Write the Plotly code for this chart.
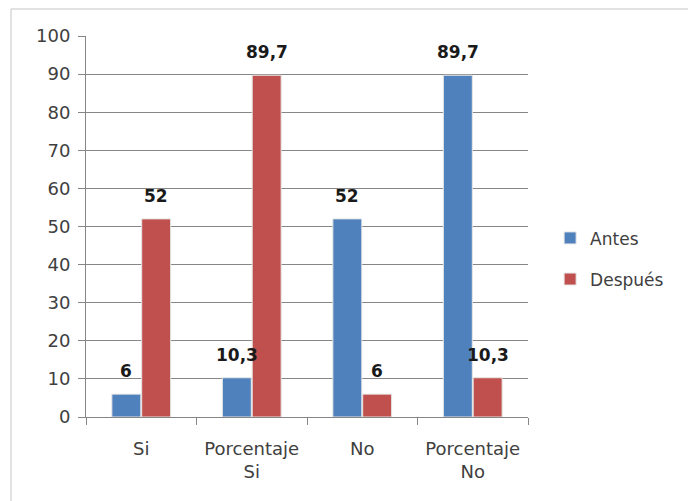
import plotly.graph_objects as go

categories = ["Si", "Porcentaje<br>Si", "No", "Porcentaje<br>No"]
antes = [6, 10.3, 52, 89.7]
despues = [52, 89.7, 6, 10.3]
series_names = ["Antes", "Después"]
colors = ["#4F81BD", "#C0504D"]
yticks = list(range(0, 101, 10))

FONT = "DejaVu Sans"
TXT = "#404040"
bargap = 0.46

def fmt(v):
    return f"{v:g}".replace(".", ",")

fig = go.Figure()
for name, vals, col, grp in zip(series_names, [antes, despues], colors, ["a", "b"]):
    fig.add_trace(go.Bar(
        x=categories, y=vals, name=name, legendgroup=grp,
        marker=dict(color=col, line=dict(color="#E6E6E6", width=1)),
    ))

annotations = []
bw = (1 - bargap) / 2
for si, vals in enumerate([antes, despues]):
    off = -bw / 2 if si == 0 else bw / 2
    for i, v in enumerate(vals):
        annotations.append(dict(
            x=i + off, y=v, xref="x", yref="y", text="<b>" + fmt(v) + "</b>",
            showarrow=False, yanchor="bottom", yshift=11,
            font=dict(family=FONT, size=17, color="#1a1a1a"),
        ))

fig.update_layout(
    width=688, height=501,
    margin=dict(l=86, r=160, t=36, b=84),
    paper_bgcolor="white", plot_bgcolor="white",
    barmode="group", bargap=bargap, bargroupgap=0.03,
    font=dict(family=FONT, size=17, color=TXT),
    annotations=annotations,
    showlegend=True,
    legend=dict(x=1.05, y=0.415, xanchor="left", yanchor="middle",
                tracegroupgap=16, font=dict(family=FONT, size=17, color=TXT),
                itemwidth=30),
    xaxis=dict(type="category", showline=True, linecolor="#868686", linewidth=1,
               ticks="outside", tickson="boundaries", ticklen=7, tickcolor="#868686",
               showgrid=False, ticklabelstandoff=15,
               tickfont=dict(family=FONT, size=18, color=TXT)),
    yaxis=dict(range=[0, 100], tickvals=yticks, showline=True, linecolor="#868686",
               linewidth=1, ticks="outside", ticklen=7, tickcolor="#868686",
               showgrid=True, gridcolor="#868686", gridwidth=1, zeroline=False,
               ticklabelstandoff=4,
               tickfont=dict(family=FONT, size=18, color=TXT)),
    shapes=[
        dict(type="line", xref="paper", yref="paper", x0=(11 - 86) / 442, x1=(688 - 86) / 442,
             y0=(417 - 9) / 381, y1=(417 - 9) / 381, line=dict(color="#D9D9D9", width=1.5)),
        dict(type="line", xref="paper", yref="paper", x0=(11 - 86) / 442, x1=(11 - 86) / 442,
             y0=(417 - 9) / 381, y1=(417 - 501) / 381, line=dict(color="#D9D9D9", width=1.5)),
    ],
)

fig.write_html("out.html")
